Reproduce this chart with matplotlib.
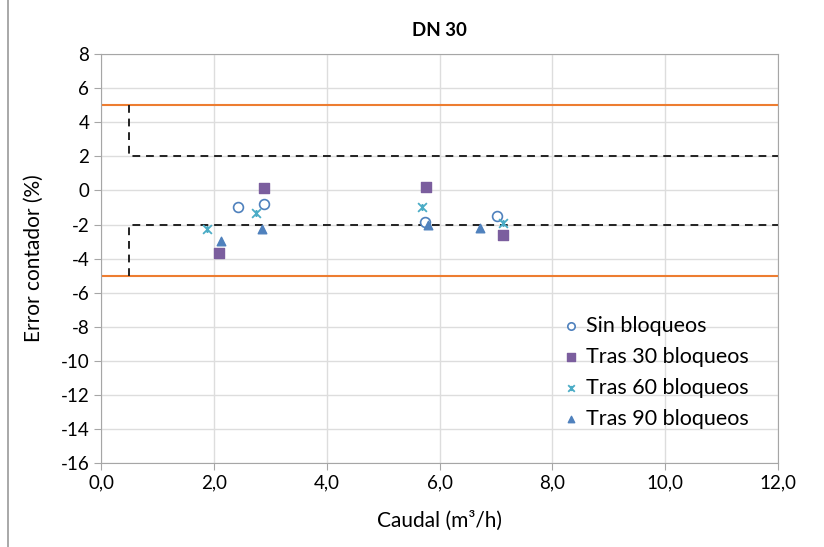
import numpy as np
import matplotlib
matplotlib.use("Agg")
import matplotlib.pyplot as plt
from matplotlib.path import Path

plt.rcParams['font.family'] = ['Lato', 'DejaVu Sans']
plt.rcParams['axes.unicode_minus'] = False

# values
sin_x = [2.42, 2.89, 5.74, 7.02]
sin_y = [-0.98, -0.78, -1.87, -1.50]
t30_x = [2.89, 2.09, 5.76, 7.12]
t30_y = [0.13, -3.69, 0.22, -2.64]
t60_x = [1.87, 2.75, 5.69, 7.13]
t60_y = [-2.26, -1.31, -0.97, -1.93]
t90_x = [2.13, 2.85, 5.80, 6.72]
t90_y = [-2.97, -2.24, -2.03, -2.19]

# tolerance limits
lim_ext = 5
lim_int = 2
q_min = 0.5

# excel style "star" marker: an x with a short vertical bar
star = Path([(-1, -1), (1, 1), (-1, 1), (1, -1), (0, -0.8), (0, 0.8)],
            [Path.MOVETO, Path.LINETO, Path.MOVETO, Path.LINETO, Path.MOVETO, Path.LINETO])

fig = plt.figure(figsize=(8.24, 5.47), dpi=100)
ax = fig.add_axes([0.1226, 0.154, 0.8216, 0.7467])

ax.set_xlim(0, 12)
ax.set_ylim(-16, 8)
ax.set_xticks(np.arange(0, 13, 2))
ax.set_yticks(np.arange(-16, 9, 2))
ax.xaxis.set_major_formatter(plt.FuncFormatter(lambda v, p: ("%.1f" % v).replace(".", ",")))
ax.grid(True, color="#dddddd", linewidth=1)
ax.set_axisbelow(True)
for s in ax.spines.values():
    s.set_color("#a6a6a6")
ax.tick_params(colors="#a6a6a6", labelcolor="black", labelsize=13.5, length=5)

# orange limits
ax.axhline(lim_ext, color="#ED7D31", lw=1.5, zorder=2)
ax.axhline(-lim_ext, color="#ED7D31", lw=1.5, zorder=2)
# dashed limits
ax.plot([q_min, q_min, 12], [lim_ext, lim_int, lim_int], color="#222222", lw=1.4, ls=(0, (4, 3)), zorder=2)
ax.plot([q_min, q_min, 12], [-lim_ext, -lim_int, -lim_int], color="#222222", lw=1.4, ls=(0, (4, 3)), zorder=2)

ax.scatter(sin_x, sin_y, marker="o", s=50, facecolors="white", edgecolors="#4F81BD", linewidths=1.2, label="Sin bloqueos", zorder=3)
ax.scatter(t30_x, t30_y, marker="s", s=55, color="#7B5E9E", label="Tras 30 bloqueos", zorder=3)
ax.scatter(t60_x, t60_y, marker=star, s=40, color="#4BACC6", linewidths=1.3, label="Tras 60 bloqueos", zorder=3)
ax.scatter(t90_x, t90_y, marker="^", s=38, color="#4F81BD", label="Tras 90 bloqueos", zorder=3)

ax.set_title("DN 30", fontsize=13.5, fontweight="bold", pad=13)
ax.set_xlabel("Caudal (m³/h)", fontsize=15, labelpad=14)
ax.set_ylabel("Error contador (%)", fontsize=15, labelpad=12)

leg = ax.legend(loc="lower right", bbox_to_anchor=(0.985, 0.035), frameon=False, fontsize=15.5,
                handletextpad=0.2, labelspacing=0.52, markerscale=0.75, handlelength=1.0)

# figure left border line
fig.add_artist(plt.Line2D([0.0097, 0.0097], [0, 1], color="#999999", lw=1.2))

plt.savefig("out.png", dpi=100)
